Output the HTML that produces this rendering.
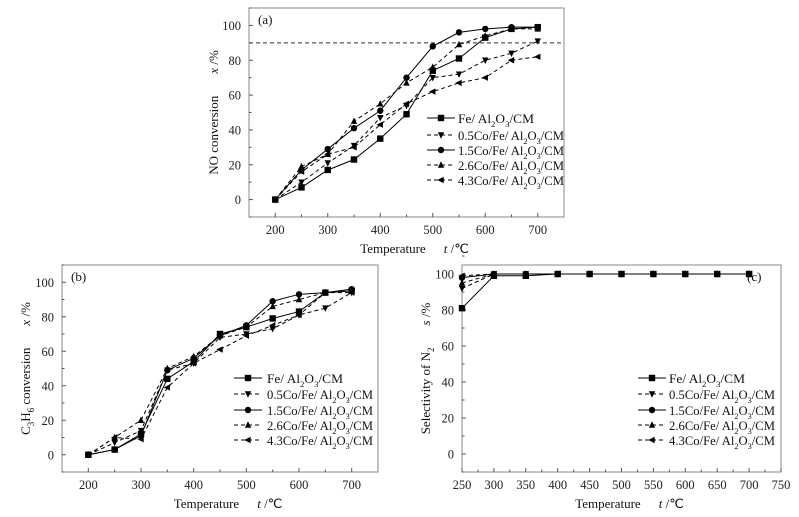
<!DOCTYPE html>
<html><head><meta charset="utf-8">
<style>
html,body{margin:0;padding:0;background:#fff;}
svg{display:block;font-family:"Liberation Serif",serif;}
</style></head>
<body>
<svg id="chart" width="799" height="517" viewBox="0 0 799 517" xmlns="http://www.w3.org/2000/svg"></svg>
<script>
// ---------- data ----------
const seriesNames = ["Fe/ Al2O3/CM","0.5Co/Fe/ Al2O3/CM","1.5Co/Fe/ Al2O3/CM","2.6Co/Fe/ Al2O3/CM","4.3Co/Fe/ Al2O3/CM"];
const seriesPrefix = ["Fe/ Al","0.5Co/Fe/ Al","1.5Co/Fe/ Al","2.6Co/Fe/ Al","4.3Co/Fe/ Al"];
const tempsAB = [200,250,300,350,400,450,500,550,600,650,700];
const tempsC = [250,300,350,400,450,500,550,600,650,700];
const noFe   = [0,7,17,23,35,49,74,81,93,98,99];
const no05Co = [0,10,21,31,47,54,70,72,80,84,91];
const no15Co = [0,17,29,41,51,70,88,96,98,99,99];
const no26Co = [0,19,26,45,55,67,76,89,94,98,98];
const no43Co = [0,16,26,30,43,55,62,67,70,80,82];
const noTarget = 90;
const c3Fe   = [0,3,12,44,54,70,74,79,83,94,95];
const c305Co = [0,7,14,49,53,68,70,73,81,85,94];
const c315Co = [0,3,11,49,56,69,75,89,93,94,96];
const c326Co = [0,10,20,50,57,69,74,86,90,94,95];
const c343Co = [0,10,9,39,53,61,69,75,81,94,94];
const n2Fe   = [81,99,99,100,100,100,100,100,100,100];
const n205Co = [92,100,100,100,100,100,100,100,100,100];
const n215Co = [98,100,100,100,100,100,100,100,100,100];
const n226Co = [95,100,100,100,100,100,100,100,100,100];
const n243Co = [99,100,100,100,100,100,100,100,100,100];
const xTicksAB = [200,300,400,500,600,700];
const xTicksC = [250,300,350,400,450,500,550,600,650,700,750];
const yTicks = [0,20,40,60,80,100];

const svg = document.getElementById('chart');
const NS = 'http://www.w3.org/2000/svg';
function mk(tag, attrs, parent){
  const e = document.createElementNS(NS, tag);
  for (const k in attrs) e.setAttribute(k, attrs[k]);
  (parent||svg).appendChild(e);
  return e;
}
const dashes = ["", "4,3", "", "4,3", "4,3"];
const markers = ["square","down","circle","up","left"];

function marker(g, type, cx, cy){
  const s = 3.2;
  let e;
  if (type==="square") e = mk('rect',{x:cx-s,y:cy-s,width:2*s,height:2*s,fill:'#000'},g);
  else if (type==="circle") e = mk('circle',{cx:cx,cy:cy,r:s,fill:'#000'},g);
  else {
    let p;
    if (type==="up") p=[[cx,cy-s-0.5],[cx-s,cy+s-0.5],[cx+s,cy+s-0.5]];
    else if (type==="down") p=[[cx,cy+s+0.5],[cx-s,cy-s+0.5],[cx+s,cy-s+0.5]];
    else p=[[cx-s-0.5,cy],[cx+s-0.5,cy-s],[cx+s-0.5,cy+s]];
    e = mk('polygon',{points:p.map(q=>q.join(',')).join(' '),fill:'#000'},g);
  }
  
  
}

function panel(o){
  const g = mk('g',{});
  
  
  const X = v => o.L + (v - o.xmin)/(o.xmax-o.xmin)*(o.R-o.L);
  const Y = v => o.B - (v - o.ymin)/(o.ymax-o.ymin)*(o.B-o.T);
  const frame = mk('rect',{x:o.L,y:o.T,width:o.R-o.L,height:o.B-o.T,fill:'none',stroke:'#888','stroke-width':1},g);
  
  
  o.xTicks.forEach(t=>{
    mk('line',{x1:X(t),x2:X(t),y1:o.B,y2:o.B-4,stroke:'#555'},g);
    const tx = mk('text',{x:X(t),y:o.B+17,'text-anchor':'middle','font-size':12.5,fill:'#222'},g);
    tx.textContent = t;
    
    
  });
  o.xMinor.forEach(t=>{ mk('line',{x1:X(t),x2:X(t),y1:o.B,y2:o.B-2.5,stroke:'#555'},g); });
  yTicks.forEach(t=>{
    mk('line',{x1:o.L,x2:o.L+4,y1:Y(t),y2:Y(t),stroke:'#555'},g);
    mk('line',{x1:o.L,x2:o.L+2.5,y1:Y(t+10),y2:Y(t+10),stroke:'#555'},g);
    const ty = mk('text',{x:o.L-8,y:Y(t)+4.5,'text-anchor':'end','font-size':12.5,fill:'#222'},g);
    ty.textContent = t;
    
    
  });
  mk('line',{x1:o.L,x2:o.L+2.5,y1:Y(-10),y2:Y(-10),stroke:'#555'},g);
  if (o.target!==undefined){
    const tl = mk('line',{x1:o.L,x2:o.R,y1:Y(o.target),y2:Y(o.target),stroke:'#333','stroke-dasharray':'4,3'},g);
    
    
  }
  o.series.forEach((vals,i)=>{
    const pl = mk('polyline',{points:vals.map((v,j)=>X(o.xs[j])+','+Y(v)).join(' '),fill:'none',stroke:'#000','stroke-width':1,'stroke-dasharray':dashes[i]},g);
    
    
    vals.forEach((v,j)=>marker(g,markers[i],X(o.xs[j]),Y(v)));
  });
  const lg = mk('g',{},g);
  
  
  o.legY.forEach((ly,i)=>{
    mk('line',{x1:o.legX,x2:o.legX+28,y1:ly,y2:ly,stroke:'#000','stroke-dasharray':dashes[i]},lg);
    marker(lg,markers[i],o.legX+14,ly);
    const t = mk('text',{x:o.legX+o.legOff,y:ly+5,'font-size':13,fill:'#111',textLength:(i===0?76:106),lengthAdjust:'spacingAndGlyphs'},lg);
    
    
    t.innerHTML = seriesPrefix[i]+'<tspan font-size="8.5" dy="4">2</tspan><tspan dy="-4">O</tspan><tspan font-size="8.5" dy="4">3</tspan><tspan dy="-4">/CM</tspan>';
  });
  const pl = mk('text',{x:o.labX,y:o.labY,'font-size':13,fill:'#111'},g);
  pl.textContent = o.label;
  
  
  const xt = mk('text',{x:(o.L+o.R)/2+8,y:o.B+36,'text-anchor':'middle','font-size':13,fill:'#111'},g);
  xt.innerHTML = 'Temperature<tspan dx="18" font-style="italic">t</tspan> /℃';
  
  
  const yt = mk('text',{x:0,y:0,'text-anchor':'middle','font-size':13,fill:'#111',transform:'translate('+o.ytX+','+((o.T+o.B)/2)+') rotate(-90)'},g);
  yt.innerHTML = o.ytitle;
  
  
}

panel({name:'panel-a-no-conversion',L:249,R:564,T:8,B:217,xmin:150,xmax:750,ymin:-10,ymax:110,
  xs:tempsAB,xTicks:xTicksAB,xMinor:[250,350,450,550,650],series:[noFe,no05Co,no15Co,no26Co,no43Co],target:noTarget,
  legX:427,legOff:31,legY:[118,135,150,165,180],label:'(a)',labX:258,labY:24,ytX:218,
  ytitle:'NO conversion<tspan dx="22" font-style="italic">x</tspan> /%'});
panel({name:'panel-b-c3h6-conversion',L:62,R:378,T:265,B:472,xmin:150,xmax:750,ymin:-10,ymax:110,
  xs:tempsAB,xTicks:xTicksAB,xMinor:[250,350,450,550,650],series:[c3Fe,c305Co,c315Co,c326Co,c343Co],
  legX:234,legOff:33,legY:[378,394,410,425,440],label:'(b)',labX:71,labY:281,ytX:30,
  ytitle:'C<tspan font-size="9" dy="4">3</tspan><tspan dy="-4">H</tspan><tspan font-size="9" dy="4">6</tspan><tspan dy="-4"> conversion</tspan><tspan dx="22" font-style="italic">x</tspan> /%'});
panel({name:'panel-c-n2-selectivity',L:462,R:781,T:265,B:472,xmin:250,xmax:750,ymin:-10,ymax:105,
  xs:tempsC,xTicks:xTicksC,xMinor:[275,325,375,425,475,525,575,625,675,725],series:[n2Fe,n205Co,n215Co,n226Co,n243Co],
  legX:638,legOff:31,legY:[378,394,410,425,440],label:'(c)',labX:747,labY:281,ytX:430,
  ytitle:'Selectivity of N<tspan font-size="9" dy="4">2</tspan><tspan dy="-4" dx="22" font-style="italic">s</tspan> /%'});
</script>
</body></html>
